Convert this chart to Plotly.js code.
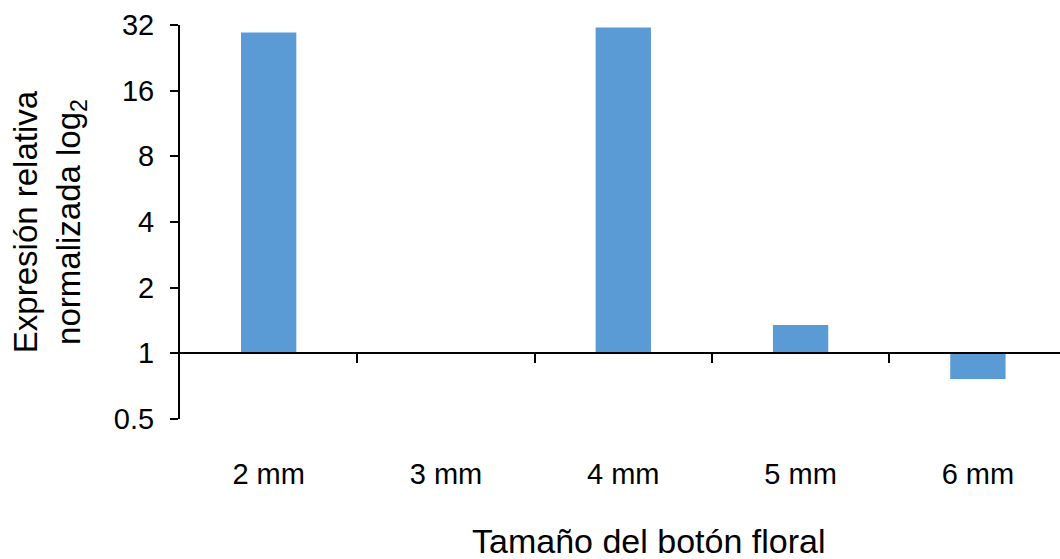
<!DOCTYPE html>
<html>
<head>
<meta charset="utf-8">
<script src="https://cdn.plot.ly/plotly-3.0.1.min.js"></script>
<style>html,body{margin:0;padding:0;background:#fff;}#chart{width:1060px;height:559px;}</style>
</head>
<body>
<div id="chart"></div>
<script>
const categories = ["2 mm", "3 mm", "4 mm", "5 mm", "6 mm"];
const expression = [29.6, 1.0, 31.2, 1.35, 0.763];
const yTickVals = [0.5, 1, 2, 4, 8, 16, 32];
const yTickText = ["0.5", "1", "2", "4", "8", "16", "32"];
const xTitle = "Tamaño del botón floral";
const yTitle = "Expresión relativa<br>normalizada log<sub>2</sub>";

const baseline = 1;
const font = {family: "Liberation Sans, Arial, sans-serif", color: "#000"};
const boundaryTicks = categories.slice(1).map((_, i) => i + 0.5);
const xRange = [-0.5, 4.463];
const yRange = [Math.log10(0.5), Math.log10(32)];
const baselinePos = (Math.log10(baseline) - yRange[0]) / (yRange[1] - yRange[0]);

const traces = [
  {
    type: "bar",
    x: categories,
    y: expression.map(v => v - baseline),
    base: baseline,
    width: 0.312,
    marker: {color: "#5B9BD5", line: {width: 0}},
    hoverinfo: "x+text",
    text: expression.map(String),
    textposition: "none"
  },
  {
    type: "scatter",
    x: [],
    y: [],
    xaxis: "x2",
    yaxis: "y",
    hoverinfo: "skip",
    showlegend: false
  }
];

const layout = {
  width: 1060,
  height: 559,
  margin: {l: 180, r: 0, t: 25, b: 140},
  paper_bgcolor: "#fff",
  plot_bgcolor: "#fff",
  showlegend: false,
  font: Object.assign({size: 29}, font),
  xaxis: {
    type: "category",
    range: xRange,
    showline: false,
    showgrid: false,
    zeroline: false,
    ticks: "",
    ticklabelstandoff: 35,
    tickfont: Object.assign({size: 29}, font),
    fixedrange: true
  },
  xaxis2: {
    type: "linear",
    overlaying: "x",
    anchor: "free",
    position: baselinePos,
    side: "bottom",
    range: xRange,
    showline: true,
    linecolor: "#000",
    linewidth: 2,
    showgrid: false,
    zeroline: false,
    ticks: "outside",
    ticklen: 9,
    tickwidth: 2,
    tickcolor: "#000",
    tickmode: "array",
    tickvals: boundaryTicks,
    showticklabels: false,
    fixedrange: true
  },
  yaxis: {
    type: "log",
    range: yRange,
    tickmode: "array",
    tickvals: yTickVals,
    ticktext: yTickText,
    showline: true,
    linecolor: "#000",
    linewidth: 2,
    ticks: "outside",
    ticklen: 8,
    tickwidth: 2,
    tickcolor: "#000",
    showgrid: false,
    zeroline: false,
    ticklabelstandoff: 10,
    tickfont: Object.assign({size: 29}, font),
    title: {text: yTitle, font: Object.assign({size: 33}, font), standoff: 23},
    fixedrange: true
  },
  annotations: [
    {
      text: xTitle,
      xref: "paper",
      yref: "paper",
      x: 0.532,
      y: 0,
      yshift: -122,
      xanchor: "center",
      yanchor: "middle",
      showarrow: false,
      font: Object.assign({size: 34}, font)
    }
  ]
};

Plotly.newPlot("chart", traces, layout, {displayModeBar: false, staticPlot: true});
</script>
</body>
</html>
